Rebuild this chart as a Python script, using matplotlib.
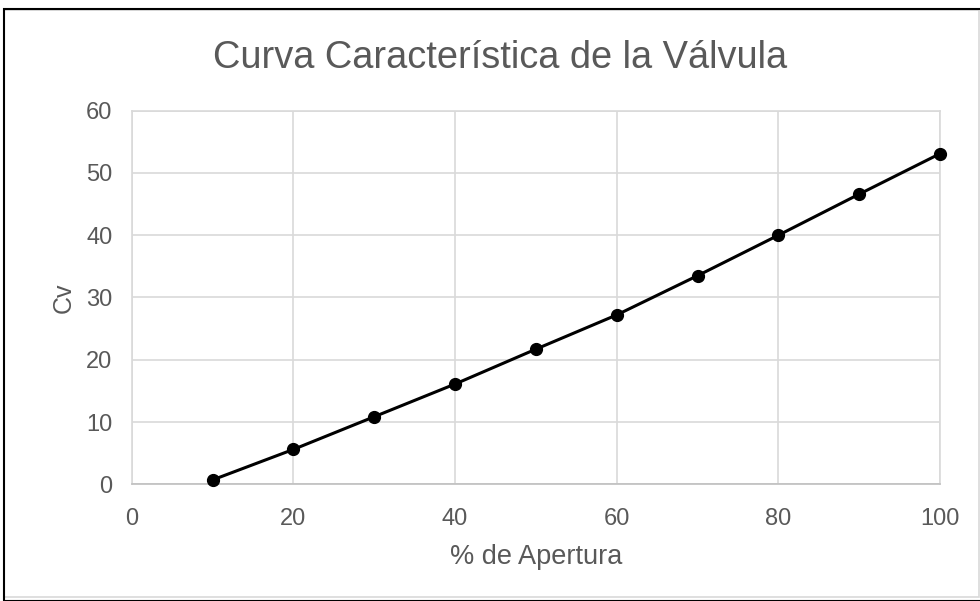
import matplotlib.pyplot as plt
from matplotlib.patches import Rectangle

# % de apertura de la válvula y coeficiente de flujo Cv medido
apertura = [10, 20, 30, 40, 50, 60, 70, 80, 90, 100]
cv = [0.7, 5.6, 10.85, 16.1, 21.7, 27.2, 33.5, 40.0, 46.6, 53.1]

x_ticks = [0, 20, 40, 60, 80, 100]
y_ticks = [0, 10, 20, 30, 40, 50, 60]

TEXT = '#595959'
GRID = '#d9d9d9'

plt.rcParams['font.family'] = ['Liberation Sans', 'DejaVu Sans']

fig = plt.figure(figsize=(9.8, 6.01), dpi=100)
ax = fig.add_axes([0.1344, 0.1942, 0.8248, 0.6216])

ax.plot(apertura, cv, color='black', linewidth=2.2, marker='o',
        markersize=8.5, zorder=3, clip_on=False)

ax.set_xlim(0, 100)
ax.set_ylim(0, 60)
ax.set_xticks(x_ticks)
ax.set_yticks(y_ticks)
ax.grid(True, color=GRID, linewidth=1.2)
ax.set_axisbelow(True)
for side in ['top', 'right', 'left']:
    ax.spines[side].set_color(GRID)
    ax.spines[side].set_linewidth(1.2)
ax.spines['bottom'].set_color('#bfbfbf')
ax.spines['bottom'].set_linewidth(1.2)
ax.tick_params(length=0, labelsize=17, labelcolor=TEXT)
ax.tick_params(axis='x', pad=17)
ax.tick_params(axis='y', pad=14)

ax.set_xlabel('% de Apertura', fontsize=19.5, color=TEXT, labelpad=10)
ax.set_ylabel('Cv', fontsize=18, color=TEXT, labelpad=7)
fig.text(0.51, 0.903, 'Curva Característica de la Válvula', ha='center',
         va='center', fontsize=27.4, color=TEXT)

# marco exterior del gráfico
fig.patches.append(Rectangle((4 / 980, 4 / 601), 975 / 980, 587 / 601,
                             transform=fig.transFigure, fill=False,
                             edgecolor='#d9d9d9', linewidth=1.2))
fig.patches.append(Rectangle((4 / 980, 0), 980 / 980, 592 / 601,
                             transform=fig.transFigure, fill=False,
                             edgecolor='black', linewidth=1.5))

fig.savefig('out.png', dpi=100)
